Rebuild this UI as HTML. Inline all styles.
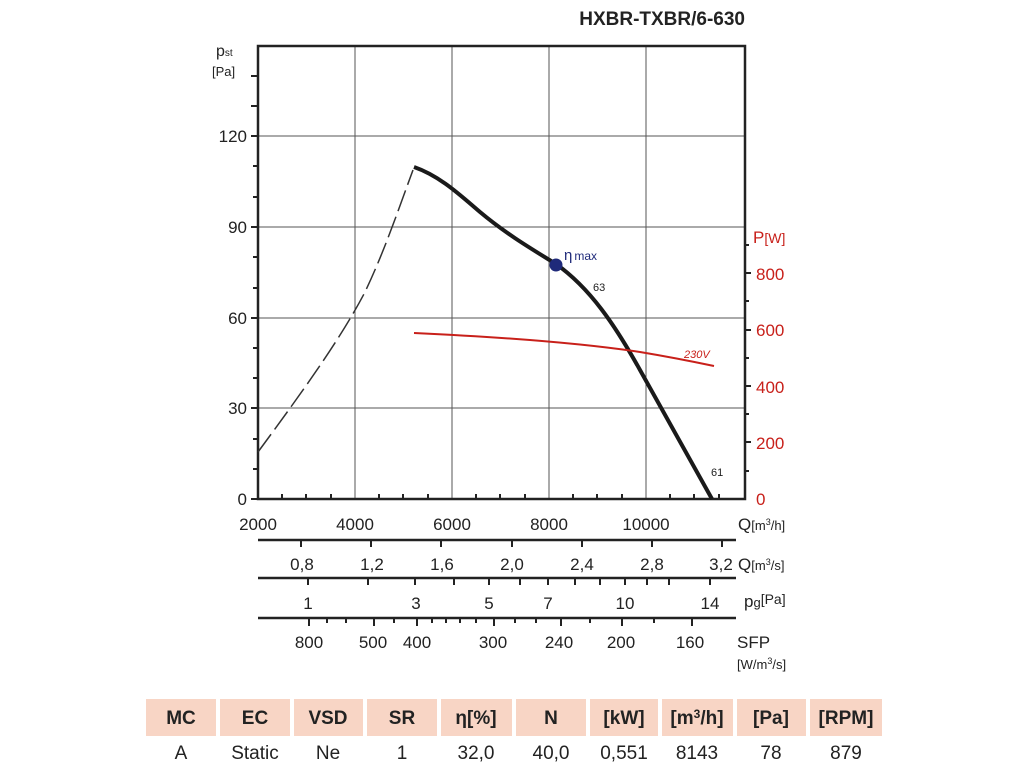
<!DOCTYPE html>
<html><head><meta charset="utf-8"><style>
html,body{margin:0;padding:0;background:#fff;}
svg{display:block;font-family:"Liberation Sans",Arial,sans-serif;}
</style></head><body>
<svg width="1024" height="768" viewBox="0 0 1024 768" xmlns="http://www.w3.org/2000/svg">
<text x="745" y="25" text-anchor="end" font-size="19" font-weight="bold" fill="#222">HXBR-TXBR/6-630</text>
<!-- grid -->
<g stroke="#555" stroke-width="1">
<line x1="355" y1="46" x2="355" y2="499"/><line x1="452" y1="46" x2="452" y2="499"/>
<line x1="549" y1="46" x2="549" y2="499"/><line x1="646" y1="46" x2="646" y2="499"/>
<line x1="258" y1="136" x2="745" y2="136"/><line x1="258" y1="227" x2="745" y2="227"/>
<line x1="258" y1="318" x2="745" y2="318"/><line x1="258" y1="408" x2="745" y2="408"/>
</g>
<rect x="258" y="46" width="487" height="453" fill="none" stroke="#222" stroke-width="2.5"/>
<!-- left ticks -->
<g stroke="#222" stroke-width="2">
<line x1="251" y1="76" x2="258" y2="76"/><line x1="251" y1="106" x2="258" y2="106"/>
<line x1="251" y1="136" x2="258" y2="136"/><line x1="253" y1="166" x2="258" y2="166"/>
<line x1="253" y1="197" x2="258" y2="197"/><line x1="251" y1="227" x2="258" y2="227"/>
<line x1="253" y1="257" x2="258" y2="257"/><line x1="253" y1="288" x2="258" y2="288"/>
<line x1="251" y1="318" x2="258" y2="318"/><line x1="253" y1="348" x2="258" y2="348"/>
<line x1="253" y1="378" x2="258" y2="378"/><line x1="251" y1="408" x2="258" y2="408"/>
<line x1="253" y1="439" x2="258" y2="439"/><line x1="253" y1="469" x2="258" y2="469"/>
<line x1="251" y1="499" x2="258" y2="499"/>
</g>
<!-- bottom minor ticks -->
<g stroke="#222" stroke-width="2">
<line x1="282" y1="499" x2="282" y2="494"/><line x1="306" y1="499" x2="306" y2="494"/><line x1="331" y1="499" x2="331" y2="494"/>
<line x1="379" y1="499" x2="379" y2="494"/><line x1="403" y1="499" x2="403" y2="494"/><line x1="428" y1="499" x2="428" y2="494"/>
<line x1="476" y1="499" x2="476" y2="494"/><line x1="500" y1="499" x2="500" y2="494"/><line x1="525" y1="499" x2="525" y2="494"/>
<line x1="573" y1="499" x2="573" y2="494"/><line x1="597" y1="499" x2="597" y2="494"/><line x1="622" y1="499" x2="622" y2="494"/>
<line x1="670" y1="499" x2="670" y2="494"/><line x1="694" y1="499" x2="694" y2="494"/><line x1="719" y1="499" x2="719" y2="494"/>
</g>
<!-- right ticks -->
<g stroke="#222" stroke-width="2">
<line x1="745" y1="273" x2="751" y2="273"/><line x1="745" y1="330" x2="751" y2="330"/>
<line x1="745" y1="386" x2="751" y2="386"/><line x1="745" y1="442" x2="751" y2="442"/>
<line x1="745" y1="301" x2="749" y2="301"/><line x1="745" y1="358" x2="749" y2="358"/>
<line x1="745" y1="414" x2="749" y2="414"/><line x1="745" y1="471" x2="749" y2="471"/>
<line x1="745" y1="245" x2="749" y2="245"/>
</g>
<g font-size="17" fill="#222" text-anchor="end">
<text x="247" y="142">120</text><text x="247" y="233">90</text><text x="247" y="324">60</text>
<text x="247" y="414">30</text><text x="247" y="505">0</text>
</g>
<text x="216" y="56" font-size="16" fill="#222">p<tspan font-size="10" dy="0">st</tspan></text>
<text x="212" y="76" font-size="13" fill="#222">[Pa]</text>
<g font-size="17" fill="#c8201a">
<text x="756" y="280">800</text><text x="756" y="336">600</text><text x="756" y="393">400</text>
<text x="756" y="449">200</text><text x="756" y="505">0</text>
<text x="753" y="243">P<tspan font-size="14">[W]</tspan></text>
</g>
<g font-size="17" fill="#222" text-anchor="middle">
<text x="258" y="530">2000</text><text x="355" y="530">4000</text><text x="452" y="530">6000</text>
<text x="549" y="530">8000</text><text x="646" y="530">10000</text>
</g>
<text x="738" y="530" font-size="17" fill="#222">Q<tspan font-size="13">[m<tspan font-size="9" dy="-5">3</tspan><tspan dy="5">/h]</tspan></tspan></text>
<!-- secondary axes -->
<g stroke="#222" stroke-width="2.5">
<line x1="258" y1="540" x2="736" y2="540"/><line x1="258" y1="578" x2="736" y2="578"/><line x1="258" y1="618" x2="736" y2="618"/>
</g>
<g stroke="#222" stroke-width="2">
<line x1="301" y1="540" x2="301" y2="547"/><line x1="371" y1="540" x2="371" y2="547"/><line x1="441" y1="540" x2="441" y2="547"/>
<line x1="512" y1="540" x2="512" y2="547"/><line x1="582" y1="540" x2="582" y2="547"/><line x1="652" y1="540" x2="652" y2="547"/>
<line x1="722" y1="540" x2="722" y2="547"/>
<line x1="308" y1="578" x2="308" y2="585"/><line x1="368" y1="578" x2="368" y2="585"/><line x1="415" y1="578" x2="415" y2="585"/>
<line x1="454" y1="578" x2="454" y2="585"/><line x1="489" y1="578" x2="489" y2="585"/><line x1="520" y1="578" x2="520" y2="585"/>
<line x1="548" y1="578" x2="548" y2="585"/><line x1="575" y1="578" x2="575" y2="585"/><line x1="600" y1="578" x2="600" y2="585"/>
<line x1="625" y1="578" x2="625" y2="585"/><line x1="647" y1="578" x2="647" y2="585"/><line x1="669" y1="578" x2="669" y2="585"/>
<line x1="710" y1="578" x2="710" y2="585"/>
<line x1="309" y1="618" x2="309" y2="626"/><line x1="327" y1="618" x2="327" y2="623"/><line x1="346" y1="618" x2="346" y2="623"/>
<line x1="374" y1="618" x2="374" y2="626"/><line x1="394" y1="618" x2="394" y2="623"/><line x1="417" y1="618" x2="417" y2="626"/>
<line x1="432" y1="618" x2="432" y2="623"/><line x1="446" y1="618" x2="446" y2="623"/><line x1="460" y1="618" x2="460" y2="623"/>
<line x1="476" y1="618" x2="476" y2="623"/><line x1="494" y1="618" x2="494" y2="626"/><line x1="515" y1="618" x2="515" y2="623"/>
<line x1="536" y1="618" x2="536" y2="623"/><line x1="561" y1="618" x2="561" y2="626"/><line x1="590" y1="618" x2="590" y2="623"/>
<line x1="622" y1="618" x2="622" y2="626"/><line x1="654" y1="618" x2="654" y2="623"/><line x1="692" y1="618" x2="692" y2="626"/>
</g>
<g font-size="17" fill="#222" text-anchor="middle">
<text x="302" y="570">0,8</text><text x="372" y="570">1,2</text><text x="442" y="570">1,6</text>
<text x="512" y="570">2,0</text><text x="582" y="570">2,4</text><text x="652" y="570">2,8</text><text x="721" y="570">3,2</text>
<text x="308" y="609">1</text><text x="416" y="609">3</text><text x="489" y="609">5</text><text x="548" y="609">7</text>
<text x="625" y="609">10</text><text x="710" y="609">14</text>
<text x="309" y="648">800</text><text x="373" y="648">500</text><text x="417" y="648">400</text>
<text x="493" y="648">300</text><text x="559" y="648">240</text><text x="621" y="648">200</text><text x="690" y="648">160</text>
</g>
<text x="738" y="570" font-size="17" fill="#222">Q<tspan font-size="13">[m<tspan font-size="9" dy="-5">3</tspan><tspan dy="5">/s]</tspan></tspan></text>
<text x="744" y="607" font-size="17" fill="#222">p<tspan font-size="13">g</tspan><tspan font-size="14" dy="-3">[Pa]</tspan></text>
<text x="737" y="648" font-size="17" fill="#222">SFP</text>
<text x="737" y="669" font-size="13" fill="#222">[W/m<tspan font-size="9" dy="-5">3</tspan><tspan dy="5">/s]</tspan></text>
<!-- curves -->
<path d="M258,452 C300,395 340,340 365,292 C385,250 400,205 413,170" fill="none" stroke="#333" stroke-width="1.5" stroke-dasharray="22,6"/>
<path d="M414,167 C440,176 460,195 480,212 C505,233 530,248 556,264 C590,288 615,325 640,370 C665,415 690,460 712,499" fill="none" stroke="#1a1a1a" stroke-width="4"/>
<path d="M414,333 C500,337 580,343 640,352 C670,357 695,362 714,366" fill="none" stroke="#c8201a" stroke-width="2"/>
<circle cx="556" cy="265" r="6.5" fill="#1f2a7a"/>
<text x="564" y="260" font-size="15" fill="#1f2a7a">η<tspan font-size="12" dx="2">max</tspan></text>
<text x="593" y="291" font-size="11" fill="#222">63</text>
<text x="711" y="476" font-size="11" fill="#222">61</text>
<text x="684" y="358" font-size="11" fill="#c8201a" font-style="italic">230V</text>
<!-- table -->
<g fill="#f8d5c5">
<rect x="146" y="699" width="70" height="37"/><rect x="220" y="699" width="70" height="37"/>
<rect x="294" y="699" width="69" height="37"/><rect x="367" y="699" width="70" height="37"/>
<rect x="441" y="699" width="71" height="37"/><rect x="516" y="699" width="70" height="37"/>
<rect x="590" y="699" width="68" height="37"/><rect x="662" y="699" width="71" height="37"/>
<rect x="737" y="699" width="69" height="37"/><rect x="810" y="699" width="72" height="37"/>
</g>
<g font-size="19" font-weight="bold" fill="#222" text-anchor="middle">
<text x="181" y="724">MC</text><text x="255" y="724">EC</text><text x="328" y="724">VSD</text>
<text x="402" y="724">SR</text><text x="476" y="724">η[%]</text><text x="551" y="724">N</text>
<text x="624" y="724">[kW]</text><text x="697" y="724">[m<tspan font-size="12" dy="-6">3</tspan><tspan dy="6">/h]</tspan></text>
<text x="771" y="724">[Pa]</text><text x="846" y="724">[RPM]</text>
</g>
<g font-size="19" fill="#222" text-anchor="middle">
<text x="181" y="759">A</text><text x="255" y="759">Static</text><text x="328" y="759">Ne</text>
<text x="402" y="759">1</text><text x="476" y="759">32,0</text><text x="551" y="759">40,0</text>
<text x="624" y="759">0,551</text><text x="697" y="759">8143</text>
<text x="771" y="759">78</text><text x="846" y="759">879</text>
</g>
</svg>
</body></html>
